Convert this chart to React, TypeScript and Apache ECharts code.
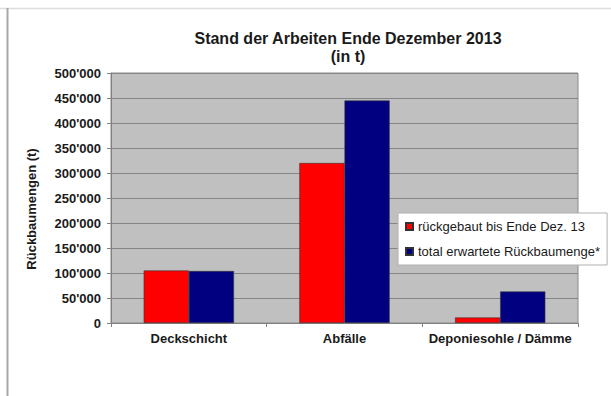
import React, { useEffect, useRef } from "react";
import * as echarts from "echarts";

const categories = ["Deckschicht", "Abfälle", "Deponiesohle / Dämme"];
const seriesNames = ["rückgebaut bis Ende Dez. 13", "total erwartete Rückbaumenge*"];
const rueckgebaut = [105000, 320000, 11000];
const totalErwartet = [104000, 445000, 63000];
const titleText = "Stand der Arbeiten Ende Dezember 2013\n(in t)";
const yAxisTitle = "Rückbaumengen (t)";

const FONT = "'Liberation Sans', Arial, sans-serif";

function fmt(v: number): string {
  if (v === 0) return "0";
  return String(v).replace(/\B(?=(\d{3})+(?!\d))/g, "'");
}

export default function App() {
  const ref = useRef<HTMLDivElement>(null);
  useEffect(() => {
    if (!ref.current) return;
    const chart = echarts.init(ref.current, null, { renderer: "svg" });
    chart.setOption({
      animation: false,
      backgroundColor: "#ffffff",
      textStyle: { fontFamily: FONT },
      title: {
        text: titleText,
        left: 343,
        top: 24,
        textAlign: "center",
        textStyle: {
          fontFamily: FONT,
          fontSize: 16,
          fontWeight: "bold",
          color: "#1a1a1a",
          lineHeight: 18,
        },
      },
      graphic: [
        {
          type: "line",
          shape: { x1: 0, y1: 8.5, x2: 611, y2: 8.5 },
          style: { stroke: "#dddddd", lineWidth: 1.5 },
          silent: true,
        },
        {
          type: "line",
          shape: { x1: 7.5, y1: 8, x2: 7.5, y2: 396 },
          style: { stroke: "#a8a8a8", lineWidth: 2 },
          silent: true,
        },
        {
          type: "text",
          x: 31,
          y: 209,
          rotation: Math.PI / 2,
          style: {
            text: yAxisTitle,
            fontFamily: FONT,
            fontSize: 13,
            fontWeight: "bold",
            fill: "#1a1a1a",
            textAlign: "center",
            textVerticalAlign: "middle",
          },
          silent: true,
        },
      ],
      legend: {
        orient: "vertical",
        left: 398,
        top: 213,
        padding: [7, 7, 7, 7],
        itemGap: 12,
        itemWidth: 7,
        itemHeight: 7,
        icon: "rect",
        backgroundColor: "#ffffff",
        borderColor: "#b0b0b0",
        borderWidth: 1,
        selectedMode: false,
        data: seriesNames,
        textStyle: { fontFamily: FONT, fontSize: 13, color: "#1a1a1a" },
        z: 10,
      },
      grid: {
        left: 111,
        top: 73,
        width: 467,
        height: 250,
        show: true,
        backgroundColor: "#c0c0c0",
        borderColor: "#8c8c8c",
        borderWidth: 1,
        containLabel: false,
      },
      xAxis: {
        type: "category",
        data: categories,
        boundaryGap: true,
        axisLine: { show: true, lineStyle: { color: "#808080", width: 1 } },
        axisTick: { show: true, length: 4, lineStyle: { color: "#808080" } },
        axisLabel: {
          interval: 0,
          margin: 9,
          fontFamily: FONT,
          fontSize: 13,
          fontWeight: "bold",
          color: "#1a1a1a",
        },
      },
      yAxis: {
        type: "value",
        min: 0,
        max: 500000,
        interval: 50000,
        axisLine: { show: true, lineStyle: { color: "#808080", width: 1 } },
        axisTick: { show: true, length: 4, lineStyle: { color: "#808080" } },
        splitLine: { show: true, lineStyle: { color: "#858585", width: 1 } },
        axisLabel: {
          margin: 10,
          formatter: (v: number) => fmt(v),
          fontFamily: FONT,
          fontSize: 13,
          fontWeight: "bold",
          color: "#1a1a1a",
        },
      },
      series: [
        {
          name: seriesNames[0],
          type: "bar",
          data: rueckgebaut,
          barGap: "0%",
          barCategoryGap: "42%",
          itemStyle: { color: "#ff0000", borderColor: "#333333", borderWidth: 0.6 },
        },
        {
          name: seriesNames[1],
          type: "bar",
          data: totalErwartet,
          barGap: "0%",
          barCategoryGap: "42%",
          itemStyle: { color: "#000080", borderColor: "#333333", borderWidth: 0.6 },
        },
      ],
    });
    return () => chart.dispose();
  }, []);
  return (
    <div
      ref={ref}
      style={{ position: "fixed", left: 0, top: 0, width: 611, height: 396 }}
    />
  );
}
